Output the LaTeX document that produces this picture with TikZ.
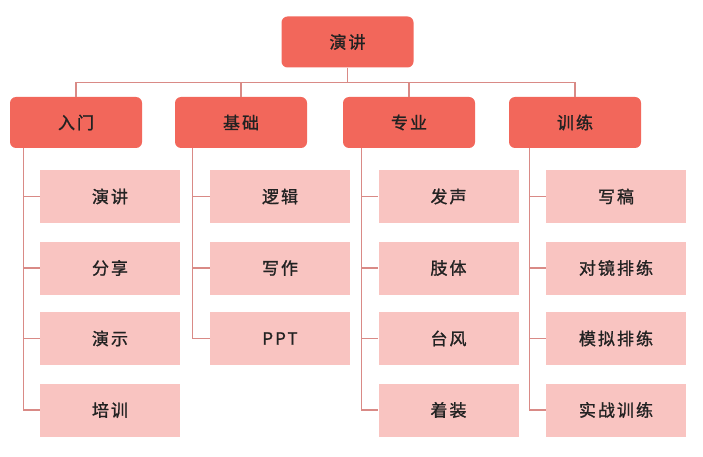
\documentclass[tikz,border=0pt]{standalone}
\usepackage{fontspec}
\setmainfont{Noto Sans CJK SC}
\newfontfamily\lblfont{Noto Sans CJK SC}[LetterSpace=12,FakeBold=1.2]
\begin{document}
\begin{tikzpicture}[x=1pt,y=-1pt,
  headbox/.style={fill=headred,draw=none,rounded corners=6pt,minimum width=132pt,minimum height=51pt,inner sep=0pt,font=\lblfont\fontsize{17}{19}\selectfont,text=textdark},
  leafbox/.style={fill=leafpink,draw=none,minimum width=140pt,minimum height=53pt,inner sep=0pt,font=\lblfont\fontsize{17}{19}\selectfont,text=textdark},
  link/.style={draw=linered,line width=1.2pt}]
\definecolor{headred}{HTML}{F2675B}
\definecolor{leafpink}{HTML}{F9C4C1}
\definecolor{linered}{HTML}{D98A86}
\definecolor{textdark}{HTML}{222222}
\useasboundingbox (0,0) rectangle (703,457);
\coordinate (bus) at (0,82.5);
\node[headbox] (top) at (347.5,42) {演讲};
\node[headbox] (h1) at (76,122.5) {入门};
\node[headbox] (h2) at (241,122.5) {基础};
\node[headbox] (h3) at (409,122.5) {专业};
\node[headbox] (h4) at (575,122.5) {训练};
% leaves
\node[leafbox] (a1) at (110,196.5) {演讲};
\node[leafbox] (a2) at (110,268) {分享};
\node[leafbox] (a3) at (110,338.5) {演示};
\node[leafbox] (a4) at (110,410) {培训};
\node[leafbox] (b1) at (280,196.5) {逻辑};
\node[leafbox] (b2) at (280,268) {写作};
\node[leafbox] (b3) at (280,338.5) {PPT};
\node[leafbox] (c1) at (448.5,196.5) {发声};
\node[leafbox] (c2) at (448.5,268) {肢体};
\node[leafbox] (c3) at (448.5,338.5) {台风};
\node[leafbox] (c4) at (448.5,410) {着装};
\node[leafbox] (d1) at (616,196.5) {写稿};
\node[leafbox] (d2) at (616,268) {对镜排练};
\node[leafbox] (d3) at (616,338.5) {模拟排练};
\node[leafbox] (d4) at (616,410) {实战训练};
% top connectors
\draw[link] (top.south) -- (top.south|-bus);
\draw[link] (h1.north) -- (h1.north|-bus) -- (h4.north|-bus) -- (h4.north);
\draw[link] (h2.north) -- (h2.north|-bus);
\draw[link] (h3.north) -- (h3.north|-bus);
% trunks
\coordinate (t1) at ([xshift=14pt]h1.south west);
\coordinate (t2) at ([xshift=18pt]h2.south west);
\coordinate (t3) at ([xshift=19pt]h3.south west);
\coordinate (t4) at ([xshift=21pt]h4.south west);
\draw[link] (t1) |- (a4.west);
\draw[link] (t1|-a1.west) -- (a1.west);
\draw[link] (t1|-a2.west) -- (a2.west);
\draw[link] (t1|-a3.west) -- (a3.west);
\draw[link] (t2) |- (b3.west);
\draw[link] (t2|-b1.west) -- (b1.west);
\draw[link] (t2|-b2.west) -- (b2.west);
\draw[link] (t3) |- (c4.west);
\draw[link] (t3|-c1.west) -- (c1.west);
\draw[link] (t3|-c2.west) -- (c2.west);
\draw[link] (t3|-c3.west) -- (c3.west);
\draw[link] (t4) |- (d4.west);
\draw[link] (t4|-d1.west) -- (d1.west);
\draw[link] (t4|-d2.west) -- (d2.west);
\draw[link] (t4|-d3.west) -- (d3.west);
\end{tikzpicture}
\end{document}
